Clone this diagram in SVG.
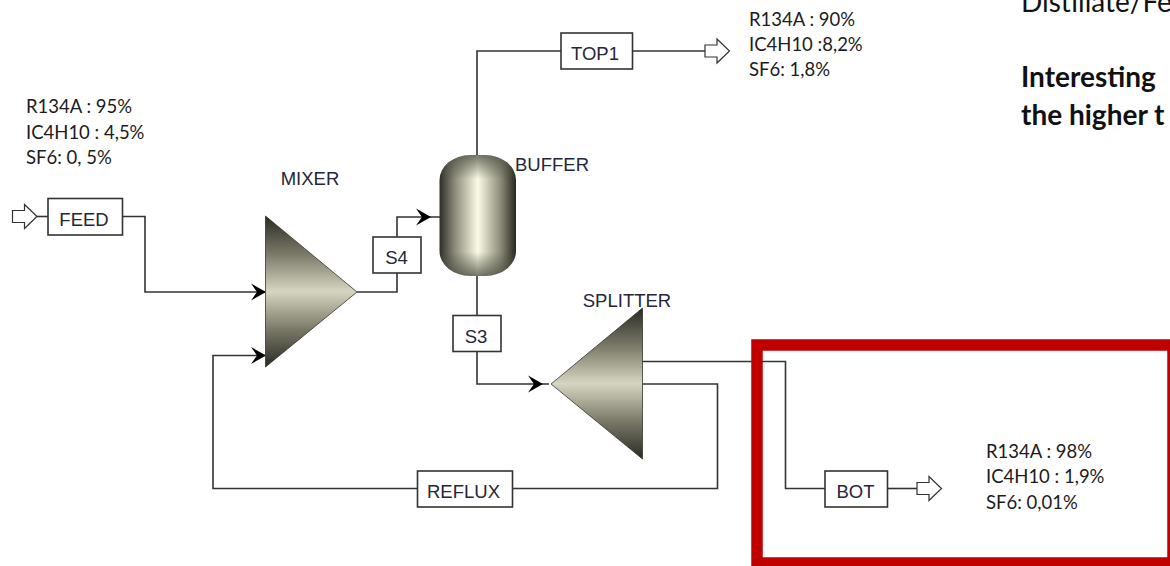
<svg xmlns="http://www.w3.org/2000/svg" width="1170" height="566" viewBox="0 0 1170 566">
<style>
.ln{fill:none;stroke:#333;stroke-width:1.6}
.box{fill:#fff;stroke:#333;stroke-width:1.6}
.lab{font-family:"Liberation Sans",Arial,sans-serif;font-size:18.500px;fill:#26263a;text-anchor:middle}
.note{font-family:Lato,"Noto Sans",sans-serif;font-size:18.500px;fill:#1c1c1c}
.big{font-family:Lato,"Noto Sans",sans-serif;font-size:28px;fill:#111}
.bold{font-weight:700}
.open{fill:#fff;stroke:#333;stroke-width:1.2}
.barb{fill:#000}
</style>
<defs>
<linearGradient id="gm" gradientUnits="userSpaceOnUse" x1="0" y1="216" x2="0" y2="367">
<stop offset="0" stop-color="#2a2a24"/><stop offset=".25" stop-color="#7a7968"/><stop offset=".5" stop-color="#d6d5c0"/><stop offset=".75" stop-color="#7a7968"/><stop offset="1" stop-color="#2a2a24"/>
</linearGradient>
<linearGradient id="gs" gradientUnits="userSpaceOnUse" x1="0" y1="308" x2="0" y2="459">
<stop offset="0" stop-color="#2a2a24"/><stop offset=".25" stop-color="#7a7968"/><stop offset=".5" stop-color="#d6d5c0"/><stop offset=".75" stop-color="#7a7968"/><stop offset="1" stop-color="#2a2a24"/>
</linearGradient>
<linearGradient id="gv" x1="0" y1="0" x2="1" y2="0">
<stop offset="0" stop-color="#2e2e26"/><stop offset=".2" stop-color="#8c8b7a"/><stop offset=".5" stop-color="#fbfbe6"/><stop offset=".8" stop-color="#8c8b7a"/><stop offset="1" stop-color="#26261f"/>
</linearGradient>
<linearGradient id="gc" x1="0" y1="0" x2="0" y2="1">
<stop offset="0" stop-color="#4a4a3e" stop-opacity=".75"/><stop offset=".2" stop-color="#4a4a3e" stop-opacity="0"/><stop offset=".8" stop-color="#4a4a3e" stop-opacity="0"/><stop offset="1" stop-color="#4a4a3e" stop-opacity=".75"/>
</linearGradient>
<path id="barb" class="barb" d="M0,0L-15,-8.500L-9,0L-15,8.500Z"/>
<path id="open" class="open" d="M0,-6H12V-12L24.500,0L12,12V6H0Z"/>
</defs>

<g id="connectors">
<path class="ln" d="M37,216.500H48"/>
<path class="ln" d="M123,216.500H145V292H265"/>
<path class="ln" d="M417,488.500H213V355.500H265"/>
<path class="ln" d="M357,292H397V273"/>
<path class="ln" d="M397,237V217H440"/>
<path class="ln" d="M477,155V51H561"/>
<path class="ln" d="M632,51H705"/>
<path class="ln" d="M477,276V315"/>
<path class="ln" d="M477,352V384H549"/>
<path class="ln" d="M642,384H717.500V488.500H513"/>
<path class="ln" d="M642,361.500H785.500V488.500H825"/>
<path class="ln" d="M888,488.500H917"/>
<use href="#barb" x="266" y="292"/>
<use href="#barb" x="266" y="355.500"/>
<use href="#barb" x="431" y="217"/>
<use href="#barb" x="543" y="384"/>
<use href="#open" x="12.500" y="216.500"/>
<use href="#open" x="705" y="51"/>
<use href="#open" x="917" y="488.500"/>
</g>

<g id="mixer">
<path d="M265.500,216L357,292L265.500,367Z" fill="url(#gm)" stroke="#33332b" stroke-width=".8"/>
<text class="lab" x="310" y="185">MIXER</text>
</g>
<g id="splitter">
<path d="M642.500,308L551,384L642.500,459Z" fill="url(#gs)" stroke="#33332b" stroke-width=".8"/>
<text class="lab" x="627" y="307">SPLITTER</text>
</g>
<g id="buffer">
<rect x="439.500" y="155" width="76.500" height="121" rx="31" ry="25" fill="url(#gv)"/>
<rect x="439.500" y="155" width="76.500" height="121" rx="31" ry="25" fill="url(#gc)"/>
<text class="lab" x="552" y="171">BUFFER</text>
</g>
<g id="feed">
<rect class="box" x="48" y="198.500" width="74.500" height="36.500"/>
<text class="lab" x="84" y="225.500">FEED</text>
</g>
<g id="top1">
<rect class="box" x="561" y="33" width="71.500" height="36"/>
<text class="lab" x="595" y="60">TOP1</text>
</g>
<g id="s4">
<rect class="box" x="373" y="237" width="48" height="36"/>
<text class="lab" x="396.500" y="263.500">S4</text>
</g>
<g id="s3">
<rect class="box" x="453" y="315.500" width="48" height="36"/>
<text class="lab" x="476" y="342.500">S3</text>
</g>
<g id="reflux">
<rect class="box" x="417.500" y="471" width="95" height="36"/>
<text class="lab" x="463.500" y="497.500">REFLUX</text>
</g>
<g id="bot">
<rect class="box" x="825" y="471" width="62.500" height="36"/>
<text class="lab" x="855.500" y="497.500">BOT</text>
</g>

<rect x="757" y="345" width="416" height="218" fill="none" stroke="#c00000" stroke-width="11.500"/>

<g id="notes">
<text class="note" x="26" y="113">R134A : 95%</text>
<text class="note" x="26" y="138.500">IC4H10 : 4,5%</text>
<text class="note" x="26" y="164">SF6: 0, 5%</text>
<text class="note" x="749" y="25.500">R134A : 90%</text>
<text class="note" x="749" y="50.500">IC4H10 :8,2%</text>
<text class="note" x="749" y="75.500">SF6: 1,8%</text>
<text class="note" x="986" y="457.500">R134A : 98%</text>
<text class="note" x="986" y="482.500">IC4H10 : 1,9%</text>
<text class="note" x="986" y="508.500">SF6: 0,01%</text>
<text class="big" x="1021" y="12">Distillate/Fe</text>
<text class="big bold" x="1021" y="87">Interesting</text>
<text class="big bold" x="1021" y="125">the higher t</text>
</g>
</svg>
